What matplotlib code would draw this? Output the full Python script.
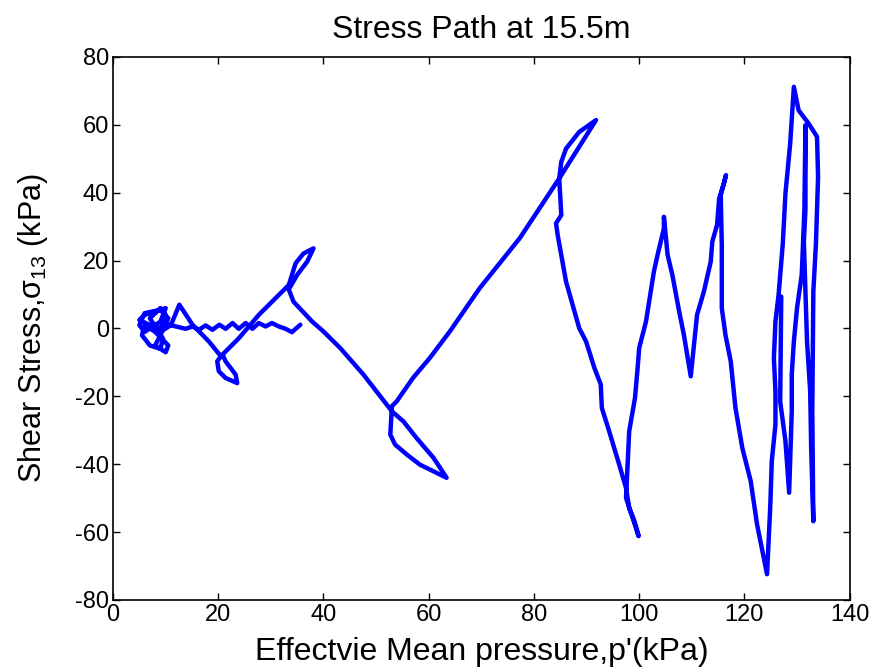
import matplotlib
matplotlib.use("Agg")
import matplotlib.pyplot as plt
import numpy as np

plt.rcParams['font.family'] = ['Liberation Sans', 'DejaVu Sans']
plt.rcParams['mathtext.fontset'] = 'custom'
plt.rcParams['mathtext.rm'] = 'Liberation Sans'
plt.rcParams['mathtext.it'] = 'Liberation Sans'
plt.rcParams['axes.unicode_minus'] = False

# stress path (p' in kPa, shear stress in kPa), in drawing order
p_wiggle = [35.6, 34.7, 34.0, 32.8, 31.5, 30.2, 29.0, 27.7, 26.5, 25.2, 23.9, 22.7,
            21.4, 20.2, 18.9, 17.6, 16.3, 15.1, 13.8, 11.9, 10.6, 9.5]
q_wiggle = [1.1, -0.1, -1.1, -0.1, 0.6, 1.6, 0.6, 1.6, -0.1, 1.6, -0.1, 1.6,
            -0.1, 1.1, -0.4, 0.9, -0.4, 0.6, -0.1, 0.6, 1.1, 0.0]

p_clump = [7.0, 5.0, 6.0, 8.0, 10.0, 9.0, 6.0, 5.0, 6.0, 9.0, 10.5, 9.0, 8.0, 10.0,
           10.5, 8.0, 6.0, 5.5, 7.0, 9.0, 9.5, 7.0, 9.0, 10.0, 9.0, 11.0, 12.6]
q_clump = [1.0, 2.5, 4.0, 5.0, 6.0, 2.0, -1.0, 1.0, 4.5, 5.5, 3.0, -2.0, -5.0, -7.0,
           -5.0, -1.0, 1.0, -2.0, -5.0, -6.0, -3.0, 3.0, 6.0, 4.0, -1.0, 1.0, 7.0]

p_mid = [15.1, 18.2, 20.5, 19.8, 20.1, 21.4, 23.6, 23.3, 21.4, 20.8, 23.9, 27.7,
         33.4, 34.7, 36.2, 38.1, 36.9, 35.0, 33.4, 34.3, 37.8, 40.0, 43.2, 47.6,
         53.0, 55.2, 57.7, 60.9, 63.4, 60.9, 58.3, 55.8, 53.6, 52.7, 53.0, 53.9,
         57.0, 60.2, 64.0, 69.7, 77.3, 84.8, 91.8]
q_mid = [1.1, -3.8, -8.2, -9.7, -12.6, -14.6, -16.1, -13.6, -9.7, -7.7, -2.9, 4.0,
         12.8, 19.2, 22.1, 23.6, 19.7, 15.8, 11.5, 7.9, 2.1, -0.9, -5.8, -13.6,
         -24.4, -27.4, -32.3, -38.1, -44.0, -42.1, -40.1, -37.1, -34.2, -31.3, -22.9, -21.5,
         -14.6, -8.7, -0.9, 11.9, 26.6, 44.2, 61.4]

p_right = [88.6, 86.1, 85.2, 84.8, 85.2, 84.2, 84.5, 86.1, 88.6, 89.9, 91.5, 92.7,
           92.9, 94.3, 96.2, 97.5, 98.1, 99.1, 99.9,
           97.5, 97.8, 98.1, 99.2, 99.7, 100.0, 101.3, 102.8, 103.5, 104.7, 104.7,
           105.4, 106.3, 107.6, 108.5, 109.8,
           111.0, 112.3, 113.6, 113.9, 114.8, 115.2, 116.1, 116.5,
           115.5, 115.7, 115.7, 116.4, 117.4, 118.3, 119.6, 121.2, 122.4, 124.3,
           124.9, 125.2, 125.9, 125.9, 125.6, 125.9, 126.5, 127.3, 127.8, 128.7, 129.4,
           130.3, 132.2, 133.8, 134.0, 133.6, 133.1, 132.9, 133.1,
           132.7, 132.5, 131.9, 131.3, 131.6, 131.6,
           131.4, 130.9, 130.0, 129.4, 129.0, 129.0, 128.5,
           127.8, 126.8, 127.0]
q_right = [57.9, 53.0, 49.1, 44.2, 33.4, 31.0, 27.6, 13.8, 0.1, -3.8, -11.7, -16.5,
           -23.4, -30.3, -40.1, -47.0, -52.9, -56.8, -61.2,
           -49.9, -40.1, -30.3, -20.5, -11.7, -5.8, 2.1, 16.8, 21.7, 29.5, 32.9,
           21.7, 15.8, 5.0, -1.9, -14.1,
           4.0, 10.9, 19.7, 25.6, 30.5, 38.3, 42.7, 45.2,
           39.3, 24.6, 6.0, -1.9, -9.7, -23.4, -35.2, -45.0, -57.7, -72.4,
           -52.9, -39.1, -28.3, -18.5, -8.7, 2.1, 10.0, 25.1, 39.8, 54.5, 71.2,
           64.3, 60.4, 56.5, 44.7, 25.1, 10.9, -24.4, -56.8,
           -36.2, -18.5, -3.8, 25.6, 35.0, 59.9,
           35.0, 15.9, 6.0, -3.8, -13.5, -24.4, -48.4,
           -33.2, -21.5, 9.4]

p = np.array(p_wiggle + p_clump + p_mid + p_right)
q = np.array(q_wiggle + q_clump + q_mid + q_right)

fig = plt.figure(figsize=(8.79, 6.70), dpi=100)
ax = fig.add_axes([0.1286, 0.1045, 0.838, 0.8105])
ax.plot(p, q, color='#0000ff', linewidth=3.2, solid_joinstyle='round', solid_capstyle='round')

ax.set_xlim(0, 140)
ax.set_ylim(-80, 80)
ax.set_xticks(np.arange(0, 141, 20))
ax.set_yticks(np.arange(-80, 81, 20))
ax.tick_params(direction='in', top=True, right=True, length=5, width=1,
               labelsize=17, pad=3)
for s in ax.spines.values():
    s.set_linewidth(1.2)

ax.set_title('Stress Path at 15.5m', fontsize=23, pad=14)
ax.set_xlabel("Effectvie Mean pressure,p'(kPa)", fontsize=23, labelpad=8)
ax.set_ylabel(r'Shear Stress,$\sigma_{13}$ (kPa)', fontsize=22, labelpad=18)

fig.savefig('out.png', dpi=100)
